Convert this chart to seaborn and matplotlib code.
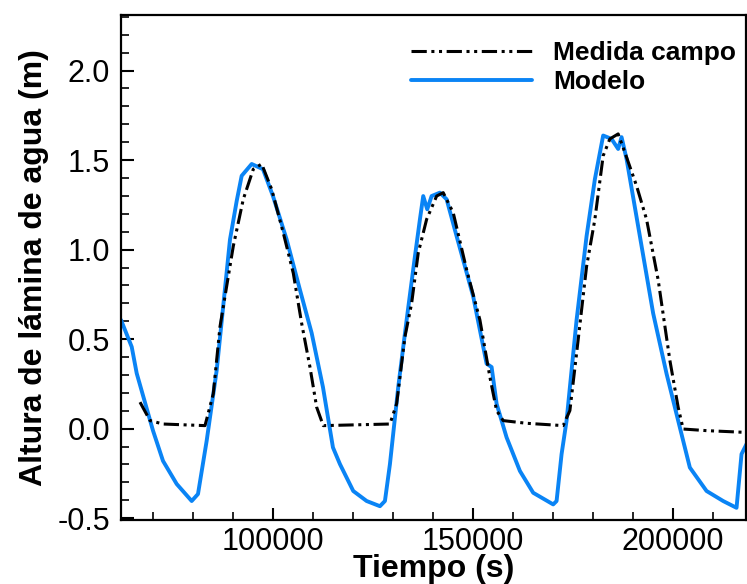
import numpy as np
import pandas as pd
import matplotlib
matplotlib.use("Agg")
import matplotlib.pyplot as plt
import seaborn as sns
from matplotlib.ticker import MultipleLocator

# Measured field data (Medida campo)
campo_t = [66750, 69250, 72500, 83000, 85075, 86750, 90075, 92575, 95075, 97175,
           99675, 102575, 105075, 107175, 109250, 110925, 112575, 129250, 130925, 133000,
           134675, 136325, 138425, 140925, 142575, 145075, 148425, 151750, 154250, 155925,
           157575, 163425, 172575, 173425, 174250, 175925, 178425, 180500, 182575, 184250,
           186325, 188000, 190925, 193425, 196325, 199250, 201325, 202575, 208425, 218425]
campo_h = [0.148, 0.045, 0.026, 0.017, 0.195, 0.569, 1.019, 1.281, 1.449, 1.478,
           1.337, 1.094, 0.869, 0.588, 0.344, 0.120, 0.017, 0.026, 0.139, 0.513,
           0.700, 0.981, 1.169, 1.299, 1.318, 1.206, 0.888, 0.607, 0.288, 0.101,
           0.045, 0.030, 0.017, 0.060, 0.101, 0.420, 0.906, 1.169, 1.524, 1.618,
           1.646, 1.543, 1.356, 1.169, 0.831, 0.382, 0.120, -0.002, -0.011, -0.021]

# Model (Modelo)
modelo_t = [62000, 64675, 65925, 70000, 72500, 75925, 79675, 81250, 83425, 85925,
            89250, 90925, 92175, 94675, 97500, 100000, 103425, 106750, 109675, 112500,
            115000, 116750, 120075, 123425, 126750, 128000, 129250, 131325, 133425, 135500,
            136750, 137575, 138575, 139675, 141750, 143425, 145925, 150075, 153425, 154675,
            155925, 158425, 161750, 165075, 170075, 170925, 172175, 173425, 175925, 178425,
            180500, 182575, 184675, 186325, 187175, 188425, 191750, 195075, 198425, 201750,
            204250, 208425, 212575, 215925, 217175, 218425]
modelo_h = [0.607, 0.457, 0.309, -0.011, -0.180, -0.309, -0.404, -0.365, -0.067, 0.326,
            1.056, 1.271, 1.412, 1.478, 1.449, 1.299, 1.056, 0.775, 0.534, 0.232,
            -0.105, -0.198, -0.348, -0.404, -0.433, -0.404, -0.198, 0.232, 0.607, 0.962,
            1.169, 1.299, 1.225, 1.299, 1.318, 1.281, 1.075, 0.738, 0.363, 0.344,
            0.139, -0.049, -0.236, -0.358, -0.423, -0.404, -0.142, 0.045, 0.607, 1.075,
            1.393, 1.637, 1.618, 1.562, 1.628, 1.506, 1.075, 0.644, 0.307, 0.007,
            -0.217, -0.348, -0.404, -0.442, -0.142, -0.086]

series_names = ["Medida campo", "Modelo"]
xticks = [100000, 150000, 200000]
yticks = [-0.5, 0.0, 0.5, 1.0, 1.5, 2.0]

sns.set_style("ticks")
plt.rcParams['font.family'] = ['Liberation Sans', 'DejaVu Sans']
plt.rcParams['text.color'] = 'black'
plt.rcParams['axes.labelcolor'] = 'black'
plt.rcParams['xtick.color'] = 'black'
plt.rcParams['ytick.color'] = 'black'
plt.rcParams['axes.edgecolor'] = 'black'

fig = plt.figure(figsize=(7.47, 5.84), dpi=100)
ax = fig.add_axes([0.162, 0.1096, 0.8367, 0.8647])

df_c = pd.DataFrame({"t": campo_t, "h": campo_h})
df_m = pd.DataFrame({"t": modelo_t, "h": modelo_h})

sns.lineplot(data=df_c, x="t", y="h", ax=ax, sort=False, estimator=None,
             color="black", linewidth=2.2, linestyle=(0, (5, 1.5, 1, 1.5, 1, 1.5)),
             label=series_names[0], zorder=3)
sns.lineplot(data=df_m, x="t", y="h", ax=ax, sort=False, estimator=None,
             color="#0A84F5", linewidth=2.8, label=series_names[1], zorder=2)

ax.set_xlim(62000, 218300)
ax.set_ylim(-0.51, 2.31)
ax.set_xticks(xticks)
ax.set_xticklabels([str(v) for v in xticks])
ax.set_yticks(yticks)
ax.set_yticklabels([f"{v:.1f}" for v in yticks])
ax.xaxis.set_minor_locator(MultipleLocator(10000))
ax.yaxis.set_minor_locator(MultipleLocator(0.1))

ax.tick_params(which='major', direction='in', length=9, width=1.5, labelsize=22, pad=5,
               colors='black')
ax.tick_params(axis='y', which='major', pad=8)
ax.tick_params(which='minor', direction='in', length=5.5, width=1.2, colors='black')
for s in ax.spines.values():
    s.set_linewidth(1.6)
    s.set_color('black')
    s.set_visible(True)

ax.set_xlabel("Tiempo (s)", fontsize=23, fontweight='bold', labelpad=-2, color='black')
ax.set_ylabel("Altura de lámina de agua (m)", fontsize=23, fontweight='bold', labelpad=6,
              color='black')

leg = ax.legend(loc='upper right', frameon=False, prop={'weight': 'bold', 'size': 19},
                handlelength=4.6, handletextpad=0.8, labelspacing=0.2,
                bbox_to_anchor=(1.014, 0.985), borderaxespad=0.3)
for t in leg.get_texts():
    t.set_color('black')

fig.savefig("out.png", dpi=100)
